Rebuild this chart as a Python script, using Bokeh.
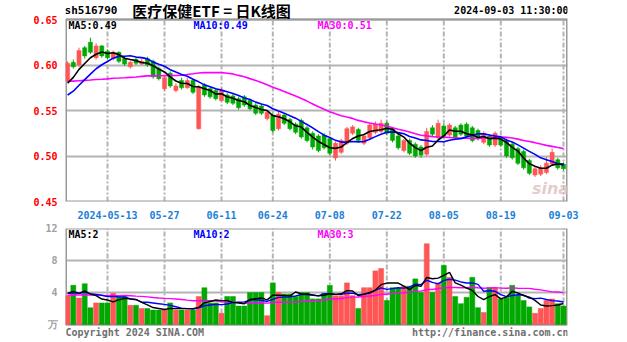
import numpy as np
import pandas as pd
from bokeh.plotting import figure
from bokeh.models import Range1d, FixedTicker, Label, ColumnDataSource, NumeralTickFormatter
from bokeh.layouts import column
from bokeh.embed import file_html
from bokeh.resources import INLINE

# ---------------- data ----------------
holidays = ["2024-05-01", "2024-05-02", "2024-05-03", "2024-06-10"]
dates = [d.strftime("%Y-%m-%d") for d in pd.bdate_range("2024-04-29", "2024-09-03")
         if d.strftime("%Y-%m-%d") not in holidays]

tick_dates = ["2024-05-13", "2024-05-27", "2024-06-11", "2024-06-24", "2024-07-08",
              "2024-07-22", "2024-08-05", "2024-08-19", "2024-09-03"]
tick_labels = ["2024-05-13", "05-27", "06-11", "06-24", "07-08", "07-22", "08-05", "08-19", "09-03"]
price_ticks = [0.45, 0.50, 0.55, 0.60, 0.65]
volume_ticks = [0, 4, 8, 12]
volume_tick_labels = {0: "万"}

opens = [0.583, 0.603, 0.600, 0.619, 0.625, 0.608, 0.621, 0.615, 0.607, 0.614,
         0.607, 0.598, 0.606, 0.601, 0.607, 0.604, 0.596, 0.574, 0.591, 0.572,
         0.583, 0.575, 0.583, 0.530, 0.578, 0.574, 0.572, 0.561, 0.567, 0.566,
         0.563, 0.565, 0.561, 0.556, 0.555, 0.541, 0.545, 0.530, 0.545, 0.540,
         0.535, 0.539, 0.531, 0.525, 0.522, 0.523, 0.519, 0.498, 0.504, 0.514,
         0.525, 0.529, 0.514, 0.520, 0.526, 0.527, 0.536, 0.530, 0.522, 0.506,
         0.517, 0.513, 0.510, 0.502, 0.531, 0.520, 0.533, 0.523, 0.531, 0.534,
         0.535, 0.531, 0.528, 0.515, 0.522, 0.512, 0.519, 0.517, 0.513, 0.508,
         0.505, 0.495, 0.479, 0.480, 0.482, 0.491, 0.496, 0.491]
closes = [0.602, 0.598, 0.616, 0.610, 0.614, 0.621, 0.610, 0.608, 0.614, 0.604,
          0.601, 0.603, 0.602, 0.604, 0.600, 0.587, 0.585, 0.586, 0.577, 0.577,
          0.575, 0.583, 0.570, 0.575, 0.567, 0.565, 0.563, 0.572, 0.559, 0.558,
          0.553, 0.556, 0.552, 0.547, 0.547, 0.548, 0.528, 0.546, 0.536, 0.530,
          0.526, 0.521, 0.517, 0.510, 0.506, 0.509, 0.503, 0.514, 0.517, 0.530,
          0.532, 0.517, 0.522, 0.534, 0.535, 0.536, 0.525, 0.517, 0.509, 0.517,
          0.503, 0.500, 0.501, 0.527, 0.524, 0.536, 0.522, 0.534, 0.520, 0.524,
          0.522, 0.517, 0.519, 0.525, 0.512, 0.525, 0.512, 0.500, 0.498, 0.492,
          0.487, 0.481, 0.486, 0.487, 0.492, 0.504, 0.487, 0.486]
highs = [0.604, 0.606, 0.619, 0.621, 0.630, 0.624, 0.622, 0.617, 0.616, 0.615,
         0.609, 0.605, 0.608, 0.607, 0.609, 0.606, 0.598, 0.589, 0.593, 0.580,
         0.586, 0.586, 0.585, 0.578, 0.580, 0.576, 0.574, 0.575, 0.569, 0.568,
         0.565, 0.567, 0.563, 0.558, 0.557, 0.550, 0.547, 0.549, 0.547, 0.542,
         0.537, 0.541, 0.533, 0.527, 0.524, 0.525, 0.521, 0.516, 0.519, 0.532,
         0.534, 0.531, 0.524, 0.536, 0.538, 0.540, 0.538, 0.532, 0.524, 0.519,
         0.519, 0.515, 0.512, 0.531, 0.534, 0.540, 0.535, 0.536, 0.533, 0.536,
         0.537, 0.533, 0.530, 0.527, 0.524, 0.527, 0.521, 0.519, 0.515, 0.510,
         0.507, 0.497, 0.489, 0.490, 0.499, 0.508, 0.498, 0.493]
lows = [0.581, 0.596, 0.598, 0.607, 0.612, 0.606, 0.608, 0.606, 0.605, 0.602,
        0.599, 0.596, 0.600, 0.600, 0.598, 0.585, 0.583, 0.572, 0.575, 0.570,
        0.573, 0.574, 0.568, 0.529, 0.565, 0.563, 0.561, 0.560, 0.557, 0.556,
        0.551, 0.554, 0.550, 0.545, 0.545, 0.539, 0.526, 0.528, 0.534, 0.528,
        0.524, 0.519, 0.515, 0.507, 0.504, 0.507, 0.501, 0.495, 0.502, 0.512,
        0.523, 0.515, 0.512, 0.518, 0.524, 0.525, 0.523, 0.515, 0.507, 0.504,
        0.501, 0.498, 0.498, 0.500, 0.521, 0.518, 0.520, 0.521, 0.518, 0.522,
        0.520, 0.515, 0.517, 0.513, 0.510, 0.510, 0.510, 0.498, 0.496, 0.490,
        0.485, 0.479, 0.477, 0.478, 0.480, 0.489, 0.485, 0.484]
volumes = [3.6, 4.9, 3.3, 5.1, 2.1, 2.7, 2.7, 2.7, 3.9, 3.5,
           3.5, 2.4, 2.4, 2.0, 2.0, 1.8, 1.8, 1.8, 2.7, 1.8,
           1.8, 1.8, 1.8, 3.5, 4.6, 2.7, 2.7, 1.4, 3.5, 3.5,
           2.3, 2.3, 4.0, 4.0, 4.0, 1.1, 5.2, 4.0, 3.8, 3.8,
           3.5, 4.0, 4.0, 3.2, 3.2, 3.9, 4.9, 3.6, 3.6, 5.2,
           3.6, 2.0, 4.6, 4.6, 6.7, 7.0, 3.0, 4.6, 4.6, 4.8,
           4.8, 5.7, 4.0, 10.1, 4.0, 5.2, 7.4, 5.9, 3.5, 2.6,
           3.4, 5.9, 2.1, 1.5, 4.6, 4.6, 3.2, 3.4, 4.9, 3.6,
           3.0, 2.2, 1.4, 2.0, 3.0, 3.2, 2.6, 2.3]

# closes / volumes of the 29 sessions before the window (needed for the moving averages)
pre_closes = [0.600, 0.602, 0.598, 0.603, 0.605, 0.600, 0.596, 0.594, 0.598, 0.592,
              0.588, 0.590, 0.585, 0.583, 0.586, 0.582, 0.580, 0.578, 0.575, 0.565,
              0.556, 0.550, 0.548, 0.555, 0.561,
              0.566, 0.572, 0.578, 0.582]
pre_volumes = [3.2, 3.8, 4.1, 3.5, 2.9, 3.6, 4.0, 3.3, 3.7, 3.1,
               3.4, 3.9, 3.0, 3.6, 4.2, 3.5, 3.3, 3.8, 3.2, 3.6,
               4.3, 3.9, 3.5, 4.0, 3.7,
               3.8, 4.4, 3.6, 4.1]

code = "sh516790"
title = "医疗保健ETF = 日K线图"
stamp = "2024-09-03 11:30:00"
copyright_text = "Copyright 2024 SINA.COM"
url_text = "http://finance.sina.com.cn"

# ---------------- derived ----------------
n = len(dates)
xs = np.arange(n)
o = np.array(opens); c = np.array(closes); h = np.array(highs); l = np.array(lows)
v = np.array(volumes)


def mov(full, k):
    full = np.asarray(full, dtype=float)
    out = np.convolve(full, np.ones(k) / k, mode="valid")
    return out[-n:]


allc = np.concatenate([pre_closes, c])
allv = np.concatenate([pre_volumes, v])
ma5, ma10, ma30 = mov(allc, 5), mov(allc, 10), mov(allc, 30)
vma5, vma10, vma30 = mov(allv, 5), mov(allv, 10), mov(allv, 30)

RED = "#ff5555"
GREEN = "#00a800"
up = c >= o
cols = [RED if u else GREEN for u in up]

src = ColumnDataSource(dict(x=xs, o=o, c=c, h=h, l=l, top=np.maximum(o, c),
                            bot=np.minimum(o, c), col=cols, v=v,
                            ma5=ma5, ma10=ma10, ma30=ma30,
                            vma5=vma5, vma10=vma10, vma30=vma30))

tick_idx = [dates.index(d) for d in tick_dates]
overrides = {i: t for i, t in zip(tick_idx, tick_labels)}

MONO = "DejaVu Sans Mono"
GRID = "#b4b4b4"
BORDER = "#9a9a9a"

XPX = 5.7          # pixels per session
X0PX = 67.1        # pixel of session 0
PPX = 910.0        # pixels per price unit
VPX = 8.0          # pixels per volume unit

xr = Range1d(-0.37, 87.7)
p_lo, p_hi = min(price_ticks), max(price_ticks)
v_lo, v_hi = min(volume_ticks), max(volume_ticks)


def px2x(px):
    return (px - X0PX) / XPX


def lab(fig, x, y, text, color="#000000", align="left", size="10px", font=MONO,
        style="bold", alpha=1.0):
    fig.add_layout(Label(x=x, y=y, text=text, text_color=color, text_align=align,
                         text_baseline="middle", text_font_size=size, text_font=font,
                         text_font_style=style, text_alpha=alpha))


def style_yaxis(fig, color):
    ax = fig.yaxis
    ax.major_label_text_color = color
    ax.major_label_text_font = MONO
    ax.major_label_text_font_style = "bold"
    ax.major_label_text_font_size = "10px"
    ax.major_label_standoff = 2
    ax.axis_line_color = None
    ax.major_tick_line_color = None
    ax.minor_tick_line_color = None


def frame_box(fig, lo, hi):
    # vertical dash-dot grid limited to the panel
    fig.segment(x0=tick_idx, y0=lo, x1=tick_idx, y1=hi, line_color=GRID,
                line_width=2, line_dash="5 2 2 2")
    # panel border
    fig.segment(x0=[xr.start, xr.end], y0=lo, x1=[xr.start, xr.end], y1=hi,
                line_color=BORDER, line_width=3)
    fig.segment(x0=xr.start, y0=[lo, hi], x1=xr.end, y1=[lo, hi],
                line_color=BORDER, line_width=2)


# ---------------- price panel ----------------
p = figure(width=627, height=222, x_range=xr,
           y_range=Range1d(p_lo, p_hi + 19 / PPX),
           output_backend="svg", toolbar_location=None,
           min_border_left=65, min_border_right=60, min_border_top=0, min_border_bottom=21)
p.background_fill_color = "white"
p.border_fill_color = "white"
p.outline_line_color = None

p.yaxis.ticker = FixedTicker(ticks=price_ticks)
p.yaxis.formatter = NumeralTickFormatter(format="0.00")
style_yaxis(p, "#ff0000")

p.xaxis.ticker = FixedTicker(ticks=tick_idx)
p.xaxis.major_label_overrides = overrides
p.xaxis.major_label_text_color = "#1a80d8"
p.xaxis.major_label_text_font = MONO
p.xaxis.major_label_text_font_style = "bold"
p.xaxis.major_label_text_font_size = "10px"
p.xaxis.major_label_standoff = 3
p.xaxis.axis_line_color = None
p.xaxis.major_tick_line_color = None
p.xaxis.minor_tick_line_color = None

p.xgrid.grid_line_color = None
p.ygrid.grid_line_color = GRID
p.ygrid.grid_line_width = 2

frame_box(p, p_lo, p_hi)

p.segment(x0="x", y0="h", x1="x", y1="l", color="col", line_width=1, source=src)
p.vbar(x="x", width=0.72, top="top", bottom="bot", fill_color="col", line_color="col",
       line_width=0.5, source=src)
p.line("x", "ma30", color="#ff00ff", line_width=1.6, source=src)
p.line("x", "ma10", color="#0000ff", line_width=1.6, source=src)
p.line("x", "ma5", color="#000000", line_width=1.6, source=src)

top_y = p_hi + 9 / PPX
lab(p, px2x(64), top_y, code, size="11px")
lab(p, px2x(211), top_y, title, align="center", size="15px", font="Noto Sans CJK SC")
lab(p, px2x(568), top_y, stamp, align="right", size="10px")

ma_y = p_hi - 6 / PPX
lab(p, px2x(68), ma_y, "MA5:%.2f" % ma5[-1], "#000000")
lab(p, px2x(193), ma_y, "MA10:%.2f" % ma10[-1], "#0000ff")
lab(p, px2x(317), ma_y, "MA30:%.2f" % ma30[-1], "#ff00ff")

lab(p, px2x(550), p_hi - (188 - 19) / PPX, "sina", "#dcc0c0", align="center",
    size="16px", font="DejaVu Sans", style="bold italic", alpha=0.8)

# ---------------- volume panel ----------------
q = figure(width=627, height=120, x_range=xr,
           y_range=Range1d(v_lo - 18 / VPX, v_hi),
           output_backend="svg", toolbar_location=None, x_axis_location=None,
           min_border_left=65, min_border_right=60, min_border_top=6, min_border_bottom=0)
q.background_fill_color = "white"
q.border_fill_color = "white"
q.outline_line_color = None

q.yaxis.ticker = FixedTicker(ticks=volume_ticks)
q.yaxis.major_label_overrides = volume_tick_labels
style_yaxis(q, "#a0a0a0")

q.xgrid.grid_line_color = None
q.ygrid.grid_line_color = GRID
q.ygrid.grid_line_width = 2

frame_box(q, v_lo, v_hi)

q.vbar(x="x", width=0.88, top="v", bottom=0, fill_color="col", line_color="col",
       line_width=0.5, source=src)
q.line("x", "vma30", color="#ff00ff", line_width=1.4, source=src)
q.line("x", "vma10", color="#0000ff", line_width=1.4, source=src)
q.line("x", "vma5", color="#000000", line_width=1.4, source=src)

vma_y = v_hi - 6 / VPX
lab(q, px2x(68), vma_y, "MA5:%d" % int(vma5[-1]), "#000000")
lab(q, px2x(193), vma_y, "MA10:%d" % int(vma10[-1]), "#0000ff")
lab(q, px2x(317), vma_y, "MA30:%d" % int(vma30[-1]), "#ff00ff")

foot_y = v_lo - 8 / VPX
lab(q, px2x(65), foot_y, copyright_text, "#707070")
lab(q, px2x(568), foot_y, url_text, "#707070", align="right")

layout = column(p, q)
open("out.html", "w").write(file_html(layout, INLINE))
